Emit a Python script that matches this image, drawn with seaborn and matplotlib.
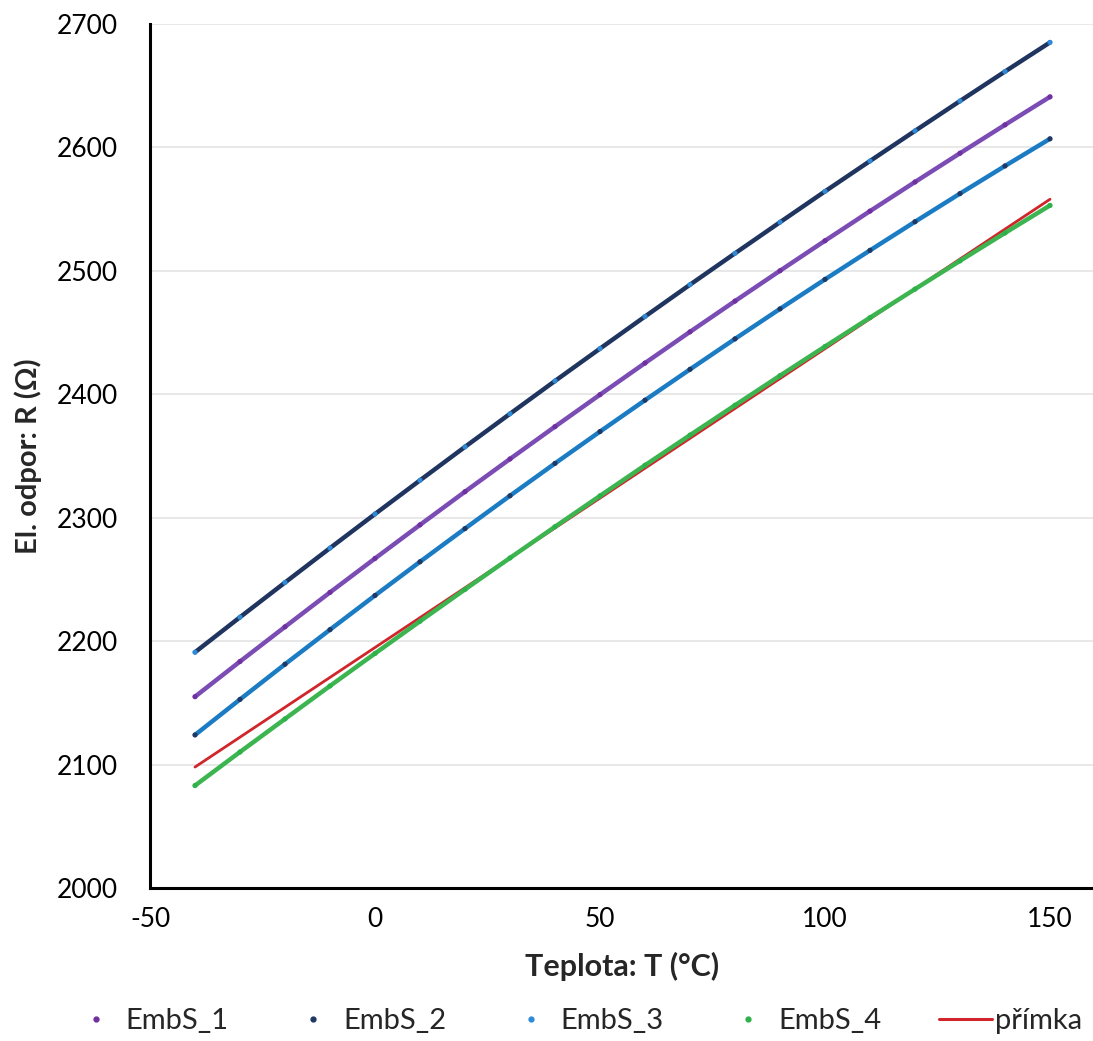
import matplotlib
matplotlib.use("Agg")
import matplotlib.pyplot as plt
import seaborn as sns
import pandas as pd
from matplotlib.lines import Line2D

# ---- data ----
temps = [-40, -30, -20, -10, 0, 10, 20, 30, 40, 50, 60, 70, 80, 90, 100, 110, 120, 130, 140, 150]
embs_1 = [2155.0, 2183.5, 2211.6, 2239.5, 2267.0, 2294.2, 2321.1, 2347.6, 2373.8, 2399.7,
          2425.3, 2450.6, 2475.5, 2500.1, 2524.4, 2548.4, 2572.0, 2595.3, 2618.3, 2641.0]
embs_2 = [2124.0, 2152.8, 2181.3, 2209.3, 2237.0, 2264.3, 2291.2, 2317.8, 2344.0, 2369.8,
          2395.2, 2420.2, 2444.9, 2469.2, 2493.1, 2516.6, 2539.8, 2562.6, 2585.0, 2607.0]
embs_3 = [2191.0, 2219.4, 2247.5, 2275.4, 2303.0, 2330.3, 2357.4, 2384.2, 2410.8, 2437.0,
          2463.0, 2488.8, 2514.2, 2539.4, 2564.4, 2589.0, 2613.4, 2637.6, 2661.5, 2685.1]
embs_4 = [2083.0, 2110.2, 2137.0, 2163.7, 2190.0, 2216.1, 2241.9, 2267.4, 2292.7, 2317.7,
          2342.5, 2366.9, 2391.1, 2415.1, 2438.7, 2462.1, 2485.2, 2508.1, 2530.7, 2553.0]
primka_t = [-40, 150]
primka_r = [2098.0, 2558.0]

series_names = ["EmbS_1", "EmbS_2", "EmbS_3", "EmbS_4"]
series_values = [embs_1, embs_2, embs_3, embs_4]
line_label = "přímka"

x_ticks = [-50, 0, 50, 100, 150]
y_ticks = [2000, 2100, 2200, 2300, 2400, 2500, 2600, 2700]
x_title = "Teplota: T (°C)"
y_title = "El. odpor: R (Ω)"

# ---- styles ----
marker_colors = {"EmbS_1": "#7030A0", "EmbS_2": "#1F3864", "EmbS_3": "#2E8AD6", "EmbS_4": "#2DB24A"}
line_colors = {"EmbS_1": "#7A4CB4", "EmbS_2": "#1B7CC4", "EmbS_3": "#1F3560", "EmbS_4": "#3CB551"}
red = "#D0262B"

rows = []
for name, vals in zip(series_names, series_values):
    for t, r in zip(temps, vals):
        rows.append({"T": t, "R": r, "serie": name})
df = pd.DataFrame(rows)

sns.set_theme(style="white")
plt.rcParams["font.family"] = ["Lato", "DejaVu Sans"]
plt.rcParams["axes.unicode_minus"] = False

fig = plt.figure(figsize=(10.93, 10.41), dpi=100)
ax = fig.add_axes([150 / 1093, 153 / 1041, 945 / 1093, 864 / 1041])

sns.lineplot(x=primka_t, y=primka_r, color=red, linewidth=2.0, ax=ax, zorder=2)
sns.lineplot(data=df, x="T", y="R", hue="serie", palette=line_colors, linewidth=3.2,
             legend=False, ax=ax, estimator=None, zorder=3)
sns.scatterplot(data=df, x="T", y="R", hue="serie", palette=marker_colors, s=14,
                edgecolor="none", legend=False, ax=ax, zorder=4)

ax.set_xlim(-50, 160)
ax.set_ylim(2000, 2700)
ax.set_xticks(x_ticks)
ax.set_yticks(y_ticks)
ax.yaxis.grid(True, color="#E4E4E4", linewidth=1.2)
ax.xaxis.grid(False)
ax.set_axisbelow(True)

for side in ["top", "right"]:
    ax.spines[side].set_visible(False)
for side in ["left", "bottom"]:
    ax.spines[side].set_color("black")
    ax.spines[side].set_linewidth(2.2)

ax.tick_params(axis="both", direction="in", length=7, width=2, colors="black", labelsize=19)
ax.tick_params(axis="y", pad=23)
ax.tick_params(axis="x", pad=14)

ax.set_xlabel(x_title, fontsize=22, fontweight="bold", labelpad=14)
ax.set_ylabel(y_title, fontsize=21, fontweight="bold", labelpad=11)

handles = [Line2D([], [], marker="o", linestyle="", color=marker_colors[n], markersize=3.5)
           for n in series_names]
handles.append(Line2D([], [], color=red, linewidth=2.2))
labels = series_names + [line_label]
fig.legend(handles, labels, loc="center", bbox_to_anchor=(0.527, 0.019), ncol=5,
           frameon=False, fontsize=21, handlelength=1.8, handletextpad=0.12,
           columnspacing=2.0, borderaxespad=0)

fig.savefig("out.png", dpi=100)
